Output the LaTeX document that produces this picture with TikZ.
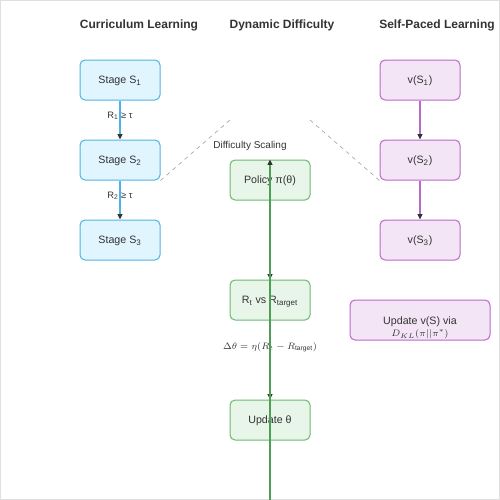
\documentclass[tikz,border=0pt]{standalone}
\usepackage{fontspec}
\setmainfont{Liberation Sans}
\usepackage{amsmath}
\usetikzlibrary{arrows.meta}

\definecolor{inktext}{HTML}{333333}
\definecolor{cblue}{HTML}{4FB3E8}
\definecolor{cbluefill}{HTML}{E1F5FE}
\definecolor{cgreen}{HTML}{6DB870}
\definecolor{cgreenfill}{HTML}{E8F5E9}
\definecolor{cgreenline}{HTML}{4E9E55}
\definecolor{cpurple}{HTML}{B86ACB}
\definecolor{cpurplefill}{HTML}{F3E5F5}

\begin{document}
\begin{tikzpicture}[x=0.75pt,y=-0.75pt,
    box/.style={draw,rounded corners=3.75pt,minimum width=60pt,minimum height=30pt,
        line width=0.75pt,text=inktext,font=\fontsize{8}{10}\selectfont,
        text height=5.8pt,text depth=0pt},
    bluebox/.style={box,draw=cblue,fill=cbluefill},
    greenbox/.style={box,draw=cgreen,fill=cgreenfill},
    purplebox/.style={box,draw=cpurple,fill=cpurplefill},
    title/.style={text=inktext,font=\fontsize{9}{11}\selectfont\bfseries},
    small/.style={text=inktext,font=\fontsize{7}{9}\selectfont},
    flow/.style={line width=1pt,-{Triangle[length=4pt,width=3.5pt,color=inktext]}},
    hint/.style={draw=gray!70,dashed,line width=0.5pt}]
    \useasboundingbox (0,0) rectangle (500,500);
    \draw[gray!25,line width=0.75pt] (0.5,0.5) rectangle (499.5,499.5);

    % column titles
    \node[title] (tcur) at (139,25) {Curriculum Learning};
    \node[title] (tdyn) at (282,25) {Dynamic Difficulty};
    \node[title] (tspl) at (437,25) {Self-Paced Learning};

    % curriculum learning
    \node[bluebox] (s1) at (120,80) {Stage S\textsubscript{1}};
    \node[bluebox] (s2) at (120,160) {Stage S\textsubscript{2}};
    \node[bluebox] (s3) at (120,240) {Stage S\textsubscript{3}};
    \draw[flow,draw=cblue] (s1) -- (s2);
    \draw[flow,draw=cblue] (s2) -- (s3);
    \node[small] (r1) at (120,116) {R\textsubscript{1} ≥ τ};
    \node[small] (r2) at (120,196) {R\textsubscript{2} ≥ τ};

    % self-paced learning
    \node[purplebox] (v1) at (420,80) {v(S\textsubscript{1})};
    \node[purplebox] (v2) at (420,160) {v(S\textsubscript{2})};
    \node[purplebox] (v3) at (420,240) {v(S\textsubscript{3})};
    \draw[flow,draw=cpurple] (v1) -- (v2);
    \draw[flow,draw=cpurple] (v2) -- (v3);
    \node[purplebox,minimum width=105pt] (kl) at (420,320) {};
    \node[text=inktext,align=center,font=\fontsize{8}{9}\selectfont] (kltext) at (420,328)
        {Update v(S) via\\{\fontsize{7}{7}\selectfont$D_{KL}(\pi||\pi^*)$}};

    % dynamic difficulty
    \node[small,font=\fontsize{7.5}{9}\selectfont] (scal) at (250,146) {Difficulty Scaling};
    \node[greenbox] (pol) at (270,180) {Policy π(θ)};
    \node[greenbox] (cmp) at (270,300) {R\textsubscript{t} vs R\textsubscript{target}};
    \node[greenbox] (upd) at (270,420) {Update θ};
    \node[text=inktext,font=\fontsize{7}{9}\selectfont] (rule) at (270,347)
        {$\Delta\theta = \eta(R_t - R_{\text{target}})$};
    \coordinate (base) at (270,500);
    \draw[flow,draw=cgreenline,line width=1.4pt] (pol) -- (cmp);
    \draw[flow,draw=cgreenline,line width=1.4pt] (cmp) -- (upd);
    \draw[flow,draw=cgreenline,line width=1.4pt] (base) -- (pol.north);

    % links between columns
    \coordinate (hl) at (230,120);
    \coordinate (hr) at (310,120);
    \draw[hint] (s2.south east) -- (hl);
    \draw[hint] (hr) -- (v2.south west);
\end{tikzpicture}
\end{document}
